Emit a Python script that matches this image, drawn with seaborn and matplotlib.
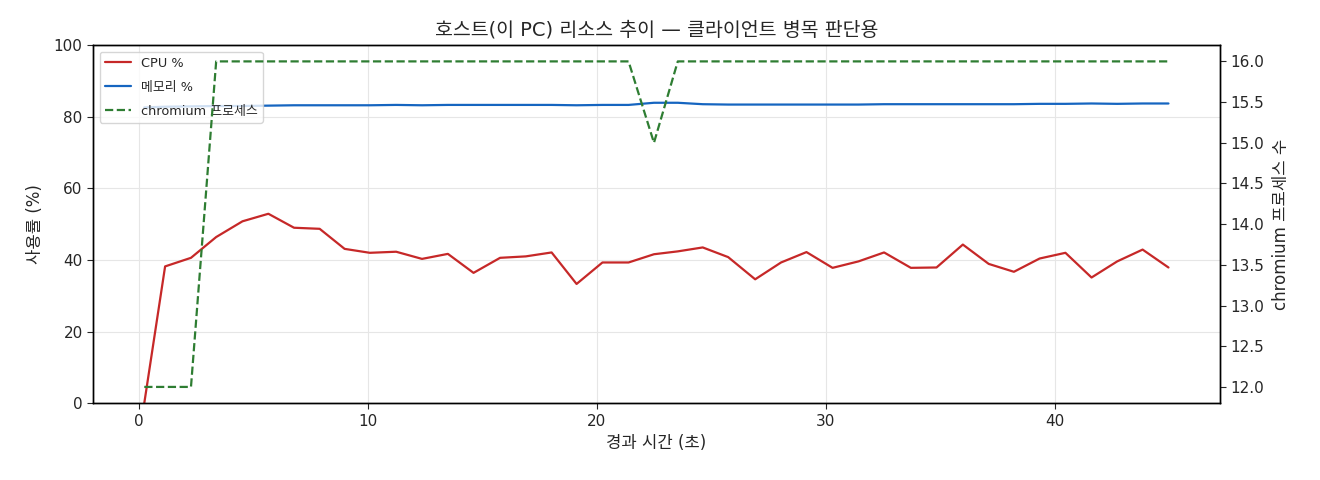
import matplotlib
matplotlib.use("Agg")
import matplotlib.pyplot as plt
import seaborn as sns
import pandas as pd

elapsed_s = [0.24, 1.15, 2.28, 3.38, 4.53, 5.66, 6.78, 7.90, 8.99, 10.09,
             11.24, 12.37, 13.50, 14.62, 15.78, 16.90, 18.03, 19.12, 20.25, 21.39,
             22.50, 23.54, 24.63, 25.74, 26.92, 28.05, 29.16, 30.30, 31.43, 32.55,
             33.72, 34.84, 35.99, 37.12, 38.22, 39.34, 40.47, 41.61, 42.73, 43.84,
             44.97]
cpu_pct = [0.0, 38.2, 40.6, 46.4, 50.8, 52.9, 49.0, 48.7, 43.1, 42.0,
           42.3, 40.3, 41.7, 36.4, 40.6, 41.0, 42.1, 33.3, 39.3, 39.3,
           41.6, 42.4, 43.5, 40.8, 34.6, 39.3, 42.2, 37.8, 39.6, 42.1,
           37.8, 37.9, 44.3, 38.9, 36.7, 40.4, 42.0, 35.1, 39.6, 42.9,
           37.9]
mem_pct = [82.6, 82.8, 82.9, 83.0, 83.0, 83.1, 83.2, 83.2, 83.2, 83.2,
           83.3, 83.2, 83.3, 83.3, 83.3, 83.3, 83.3, 83.2, 83.3, 83.3,
           83.9, 83.9, 83.5, 83.4, 83.4, 83.4, 83.4, 83.4, 83.4, 83.5,
           83.5, 83.5, 83.5, 83.5, 83.5, 83.6, 83.6, 83.7, 83.6, 83.7,
           83.7]
chromium_procs = [12, 12, 12, 16, 16, 16, 16, 16, 16, 16,
                  16, 16, 16, 16, 16, 16, 16, 16, 16, 16,
                  15, 16, 16, 16, 16, 16, 16, 16, 16, 16,
                  16, 16, 16, 16, 16, 16, 16, 16, 16, 16,
                  16]
proc_ticks = [12.0, 12.5, 13.0, 13.5, 14.0, 14.5, 15.0, 15.5, 16.0]

df = pd.DataFrame({"t": elapsed_s, "cpu": cpu_pct, "mem": mem_pct, "proc": chromium_procs})

sns.set_theme(style="ticks")
plt.rcParams["font.family"] = ["DejaVu Sans", "Noto Sans CJK KR"]
plt.rcParams["axes.unicode_minus"] = False

fig = plt.figure(figsize=(13.2, 4.8), dpi=100)
ax = fig.add_axes([0.0705, 0.160, 0.8535, 0.746])

sns.lineplot(data=df, x="t", y="cpu", ax=ax, color="#c62828", linewidth=1.6, label="CPU %")
sns.lineplot(data=df, x="t", y="mem", ax=ax, color="#1565c0", linewidth=1.6, label="메모리 %")
ax.set_ylim(0, 100)
ax.grid(True, color="#e6e6e6", linewidth=0.8)
ax.set_xlabel("경과 시간 (초)", fontsize=12, labelpad=4)
ax.set_ylabel("사용률 (%)", fontsize=12, labelpad=7)
ax.tick_params(labelsize=11, length=4, width=0.8)
for s in ax.spines.values():
    s.set_color("black")
    s.set_linewidth(1.0)

ax2 = ax.twinx()
sns.lineplot(data=df, x="t", y="proc", ax=ax2, color="#2e7d32", linewidth=1.6,
             linestyle="--", label="chromium 프로세스", legend=False)
ax2.set_ylabel("chromium 프로세스 수", fontsize=12, labelpad=6)
ax2.tick_params(labelsize=11, length=4, width=0.8)
ax2.grid(False)
ax2.set_yticks(proc_ticks)
ax2.set_yticklabels([f"{v:.1f}" for v in proc_ticks])
for s in ax2.spines.values():
    s.set_color("black")
    s.set_linewidth(1.0)

h1, l1 = ax.get_legend_handles_labels()
h2, l2 = ax2.get_legend_handles_labels()
if ax.get_legend() is not None:
    ax.get_legend().remove()
ax.legend(h1 + h2, l1 + l2, loc="upper left", fontsize=9.3, frameon=True,
          framealpha=0.8, edgecolor="#cccccc", labelspacing=0.85)

ax.set_title("호스트(이 PC) 리소스 추이 — 클라이언트 병목 판단용", fontsize=14, pad=7)

fig.savefig("out.png", dpi=100)
